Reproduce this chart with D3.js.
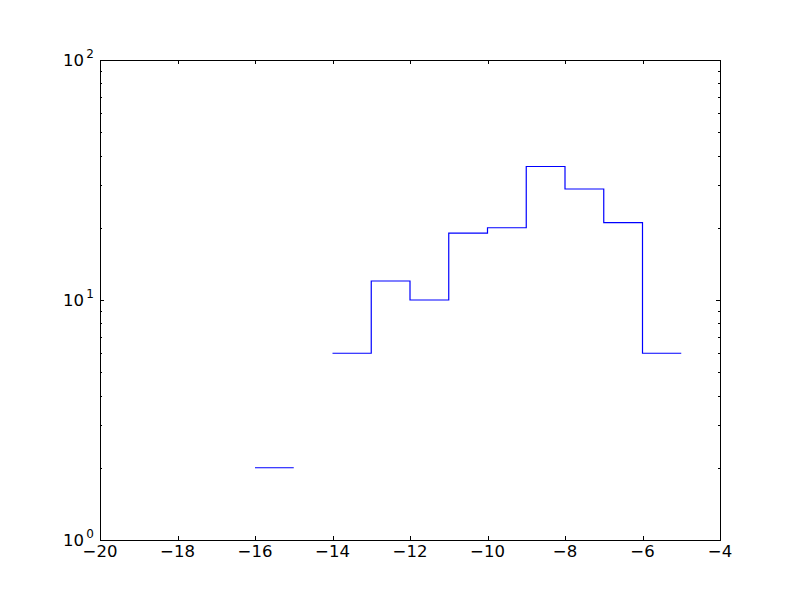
<!DOCTYPE html>
<html>
<head>
<meta charset="utf-8">
<script src="https://cdn.jsdelivr.net/npm/d3@7"></script>
<style>
  body { margin: 0; background: #fff; }
  text { font-family: "DejaVu Sans", sans-serif; }
</style>
</head>
<body>
<svg width="800" height="600"></svg>
<script>
// histogram bins (left edges + last right edge) and counts
var binEdges = [-16, -15, -14, -13, -12, -11, -10, -9, -8, -7, -6, -5];
var counts = [2, 0, 6, 12, 10, 19, 20, 36, 29, 21, 6];
var xTicks = [-20, -18, -16, -14, -12, -10, -8, -6, -4];
var yMajor = [1, 10, 100];
var yExp = ['0', '1', '2'];

var width = 800, height = 600;
var padding = {top: 60, bottom: 60, left: 100, right: 80};
var svg = d3.select('svg');

var xScale = d3.scaleLinear()
  .domain([-20, -4])
  .range([padding.left, width - padding.right]);

var yScale = d3.scaleLog()
  .domain([1, 100])
  .range([height - padding.bottom, padding.top]);

// step points
var pts = [];
for (var i = 0; i < counts.length; i++) {
  pts.push({x: binEdges[i], y: counts[i]});
  pts.push({x: binEdges[i + 1], y: counts[i]});
}

var line = d3.line()
  .defined(d => d.y > 0)
  .x(d => xScale(d.x))
  .y(d => yScale(d.y));

svg.append('path')
  .attr('d', line(pts))
  .attr('fill', 'none')
  .attr('stroke', '#0000ff')
  .attr('stroke-width', 1.2);

var x0 = padding.left, x1 = width - padding.right;
var y0 = height - padding.bottom, y1 = padding.top;

// ticks, inside, on all sides
var ticks = svg.append('g').attr('stroke', 'black').attr('stroke-width', 1);
xTicks.forEach(function(t) {
  var x = Math.round(xScale(t)) + 0.5;
  ticks.append('line').attr('x1', x).attr('x2', x).attr('y1', y0).attr('y2', y0 - 4);
  ticks.append('line').attr('x1', x).attr('x2', x).attr('y1', y1).attr('y2', y1 + 4);
});
yMajor.forEach(function(t) {
  var y = Math.round(yScale(t)) + 0.5;
  ticks.append('line').attr('x1', x0).attr('x2', x0 + 4).attr('y1', y).attr('y2', y);
  ticks.append('line').attr('x1', x1).attr('x2', x1 - 4).attr('y1', y).attr('y2', y);
});
var minor = [];
[1, 10].forEach(function(d) { for (var k = 2; k < 10; k++) minor.push(d * k); });
minor.forEach(function(t) {
  var y = Math.round(yScale(t)) + 0.5;
  ticks.append('line').attr('x1', x0).attr('x2', x0 + 2).attr('y1', y).attr('y2', y);
  ticks.append('line').attr('x1', x1).attr('x2', x1 - 2).attr('y1', y).attr('y2', y);
});

// frame
svg.append('rect')
  .attr('x', x0 + 0.5).attr('y', y1 + 0.5)
  .attr('width', x1 - x0).attr('height', y0 - y1)
  .attr('fill', 'none').attr('stroke', 'black').attr('stroke-width', 1);

// x tick labels
svg.append('g').selectAll('text')
  .data(xTicks)
  .enter()
  .append('text')
  .attr('x', d => xScale(d))
  .attr('y', y0 + 17)
  .attr('text-anchor', 'middle')
  .attr('font-size', '16.5px')
  .text(d => d < 0 ? '\u2212' + Math.abs(d) : d);

// y tick labels 10^n
yMajor.forEach(function(t, i) {
  var txt = svg.append('text')
    .attr('x', x0 - 16)
    .attr('y', yScale(t) + 6)
    .attr('text-anchor', 'end')
    .attr('font-size', '16.5px');
  txt.append('tspan').text('10');
  svg.append('text')
    .attr('x', x0 - 6)
    .attr('y', yScale(t) - 2)
    .attr('text-anchor', 'end')
    .attr('font-size', '12px')
    .text(yExp[i]);
});
</script>
</body>
</html>
